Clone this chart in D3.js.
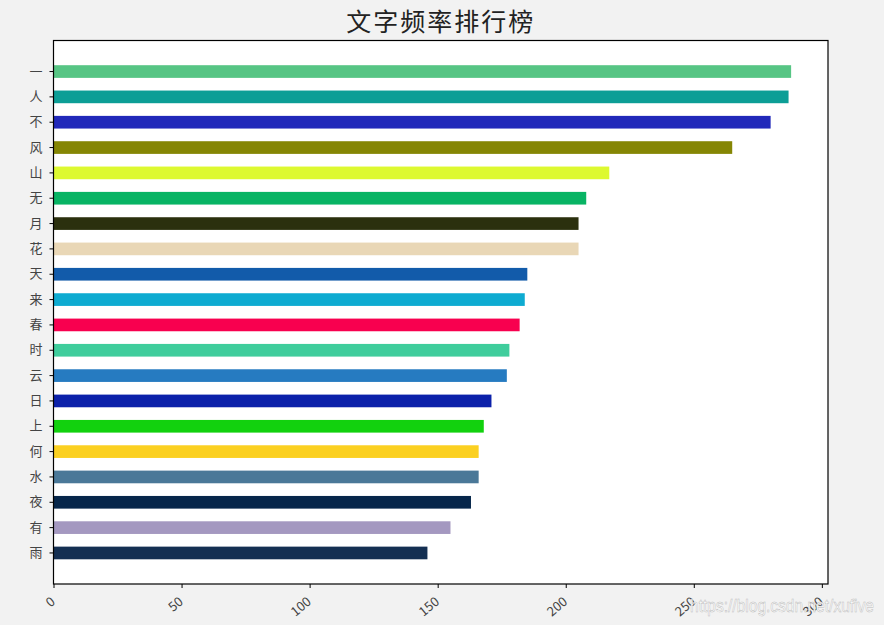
<!DOCTYPE html>
<html>
<head>
<meta charset="utf-8">
<script src="https://cdn.jsdelivr.net/npm/d3@7/dist/d3.min.js"></script>
<style>
    html, body { margin: 0; padding: 0; background: #f2f2f2; }
    svg { display: block; }
    .axis text { font-family: "Noto Sans CJK SC", sans-serif; fill: #444; }
    .axis path { display: none; }
    .axis line { stroke: #000; }
</style>
</head>
<body>
<div id="chart"><svg></svg></div>
<script>
const title = '文字频率排行榜';

const words = ['一', '人', '不', '风', '山', '无', '月', '花', '天', '来',
    '春', '时', '云', '日', '上', '何', '水', '夜', '有', '雨'];

const counts = [288, 287, 280, 265, 217, 208, 205, 205, 185, 184,
    182, 178, 177, 171, 168, 166, 166, 163, 155, 146];

const colors = ['#57c584', '#0c9e96', '#2129ba', '#858604', '#ddf930', '#08b464', '#2b300e', '#e9d7b6', '#125baa', '#0eabd1',
    '#f8004f', '#3fcd9c', '#267bc1', '#0c21aa', '#12d10e', '#fbd021', '#4a7898', '#06264a', '#a498c0', '#142f52'];

const xTicks = [0, 50, 100, 150, 200, 250, 300];

const fullWidth = 884;
const fullHeight = 625;
const margin = {top: 40.5, right: 56, bottom: 41, left: 53.5};
const width = fullWidth - margin.left - margin.right;
const height = fullHeight - margin.top - margin.bottom;

const svg = d3.select('#chart svg')
    .attr('width', fullWidth)
    .attr('height', fullHeight);

svg.append('rect')
    .attr('width', fullWidth)
    .attr('height', fullHeight)
    .attr('fill', '#f2f2f2');

// matplotlib-like 5% margin past the longest bar
const xScale = d3.scaleLinear()
    .domain([0, d3.max(counts) * 1.05])
    .range([0, width]);

const yScale = d3.scaleBand()
    .domain(words)
    .range([0, height])
    .paddingInner(0.5)
    .paddingOuter(0.975);

const g = svg.append('g')
    .attr('transform', `translate(${margin.left}, ${margin.top})`);

g.append('rect')
    .attr('width', width)
    .attr('height', height)
    .attr('fill', '#fff');

g.selectAll('.bar')
    .data(words)
    .enter().append('rect')
    .attr('class', 'bar')
    .attr('x', 0)
    .attr('y', d => yScale(d))
    .attr('width', (d, i) => xScale(counts[i]))
    .attr('height', yScale.bandwidth())
    .attr('fill', (d, i) => colors[i]);

g.append('rect')
    .attr('width', width)
    .attr('height', height)
    .attr('fill', 'none')
    .attr('stroke', '#000')
    .attr('stroke-width', 1.2);

const yAxis = d3.axisLeft(yScale)
    .tickSize(4)
    .tickPadding(7);

const gYAxis = g.append('g')
    .attr('class', 'axis axis--y')
    .call(yAxis);

gYAxis.selectAll('text')
    .style('font-size', '13px');

const xAxis = d3.axisBottom(xScale)
    .tickValues(xTicks)
    .tickSize(4);

const gXAxis = g.append('g')
    .attr('class', 'axis axis--x')
    .attr('transform', `translate(0, ${height})`)
    .call(xAxis);

gXAxis.selectAll('text')
    .attr('y', 0)
    .attr('dy', 0)
    .attr('text-anchor', 'end')
    .attr('transform', 'translate(2, 19) rotate(-40)')
    .style('font-size', '13px');

svg.append('text')
    .attr('x', margin.left + width / 2)
    .attr('y', 31)
    .attr('text-anchor', 'middle')
    .style('font-family', '"Noto Sans CJK SC", sans-serif')
    .style('font-size', '25px')
    .style('letter-spacing', '2px')
    .attr('fill', '#222')
    .text(title);

svg.append('text')
    .attr('x', 690)
    .attr('y', 612)
    .attr('textLength', 184)
    .attr('lengthAdjust', 'spacingAndGlyphs')
    .style('font-family', '"Liberation Sans", Arial, sans-serif')
    .style('font-size', '18px')
    .attr('fill', '#fff')
    .attr('stroke', '#bbb')
    .attr('stroke-width', 0.5)
    .text('https://blog.csdn.net/xufive');
</script>
</body>
</html>
